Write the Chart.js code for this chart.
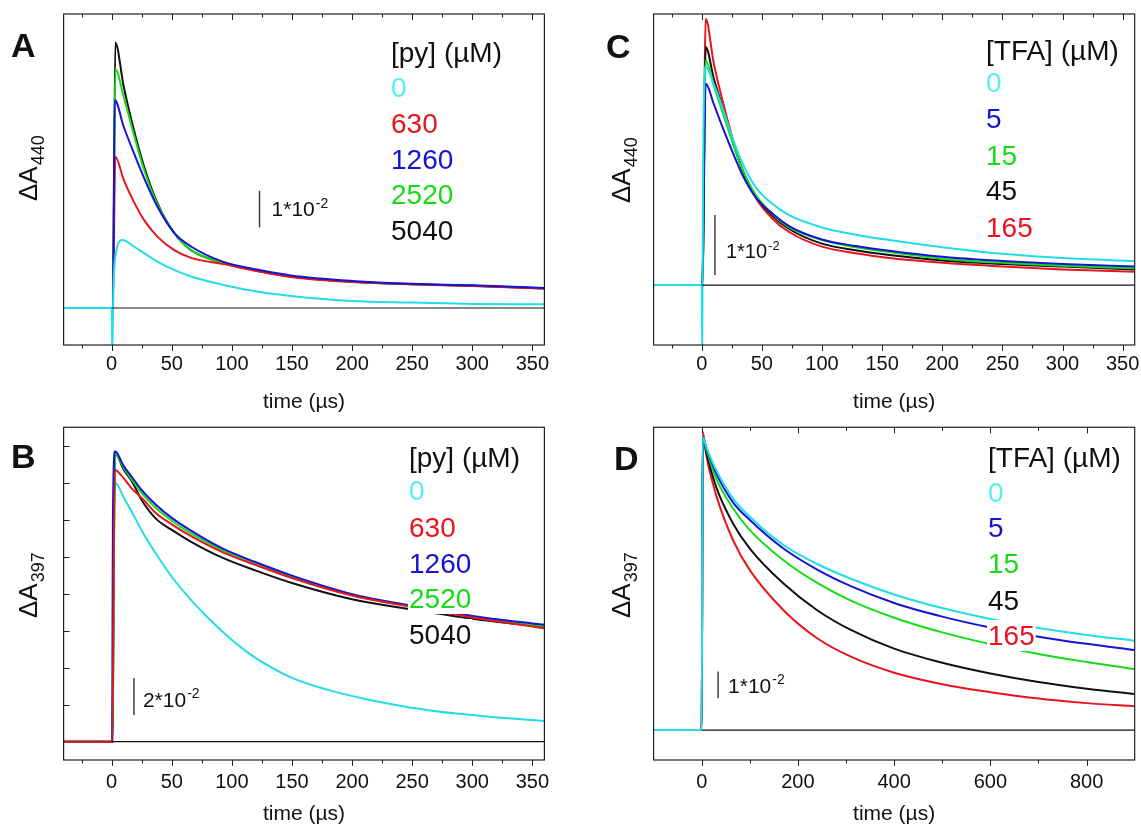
<!DOCTYPE html>
<html>
<head>
<meta charset="utf-8">
<script src="https://cdn.jsdelivr.net/npm/chart.js@4"></script>
<style>
html, body { margin: 0; padding: 0; background: #fff; }
#wrap { position: relative; width: 1141px; height: 827px; }
canvas { position: absolute; }
</style>
</head>
<body>
<div id="wrap">
  <canvas id="pA" width="570" height="420" style="left:0;top:0"></canvas>
  <canvas id="pC" width="571" height="420" style="left:570px;top:0"></canvas>
  <canvas id="pB" width="570" height="407" style="left:0;top:420px"></canvas>
  <canvas id="pD" width="571" height="407" style="left:570px;top:420px"></canvas>
</div>
<script>
// concentrations shown in the legends
var pyConc = ['0', '630', '1260', '2520', '5040'];
var tfaConc = ['0', '5', '15', '45', '165'];

// axis ticks (time, µs)
var ticksUs = [0, 50, 100, 150, 200, 250, 300, 350];
var minorUs = [-25, 25, 75, 125, 175, 225, 275, 325];
var ticksLong = [0, 200, 400, 600, 800];
var minorLong = [100, 300, 500, 700];
var ticksB_y = [0.02, 0.04, 0.06, 0.08, 0.10, 0.12, 0.14, 0.16];

// panel A : dA440 vs time, [py]
var aCyan  = [[-40,0],[0,0],[0.5,-0.012],[1.5,0.006],[3.5,0.015],[9,0.0186],[18.5,0.0168],[27,0.015],[38,0.0127],[52,0.0104],[66,0.0086],[93,0.0063],[121,0.0045],[149,0.0033],[200,0.0019],[250,0.0015],[300,0.0011],[360,0.001]];
var aRed   = [[-40,0],[1,0],[3,0.0413],[10,0.035],[18.5,0.029],[27,0.024],[38,0.0195],[52,0.0158],[66,0.0137],[93,0.012],[121,0.0101],[149,0.0085],[200,0.0071],[250,0.0065],[300,0.006],[360,0.0053]];
var aBlue  = [[-40,0],[1,0],[2.5,0.0568],[10,0.0495],[18.5,0.0423],[27,0.0355],[38,0.0277],[52,0.0205],[66,0.0168],[93,0.0126],[121,0.0105],[149,0.0089],[200,0.0074],[250,0.0066],[300,0.0062],[360,0.0055]];
var aGreen = [[-40,0],[1,0],[3,0.0652],[10,0.0577],[18.5,0.0473],[27,0.0377],[38,0.0283],[52,0.0205],[66,0.0158],[93,0.0122],[121,0.0102],[149,0.0086],[200,0.0072],[250,0.0065],[300,0.0061],[360,0.0053]];
var aBlack = [[-40,0],[1,0],[3,0.0725],[10,0.0605],[18.5,0.0486],[27,0.0386],[38,0.0287],[52,0.0205],[66,0.0158],[93,0.0123],[121,0.0102],[149,0.0086],[200,0.0072],[250,0.0065],[300,0.0061],[360,0.0053]];

// panel B : dA397 vs time, [py]
var bCyan  = [[-40,0],[0.5,0],[1,0.096],[3.3,0.1397],[10,0.132],[16.6,0.1245],[25.5,0.1135],[37,0.1015],[50.8,0.0885],[64.8,0.0775],[78.6,0.068],[92.5,0.0593],[106,0.0518],[120,0.0452],[149,0.0348],[180,0.028],[210,0.0232],[240,0.0194],[270,0.0164],[310,0.0137],[360,0.0112]];
var bRed   = [[-40,0],[0.5,0],[2.5,0.147],[8,0.144],[16.6,0.137],[25.5,0.1315],[37,0.1235],[50,0.1175],[65,0.1115],[92,0.1025],[120,0.0955],[150,0.0885],[200,0.079],[250,0.0728],[300,0.0672],[360,0.0613]];
var bBlue  = [[-40,0],[0.5,0],[1,0.12],[2.8,0.157],[10,0.149],[17,0.143],[25,0.136],[37,0.128],[50,0.121],[65,0.1145],[92,0.1045],[120,0.097],[150,0.0898],[200,0.0798],[250,0.0735],[300,0.068],[360,0.0632]];
var bGreen = [[-40,0],[0.5,0],[2.8,0.156],[10,0.148],[17,0.1416],[25,0.1344],[37,0.1262],[50,0.1195],[65,0.113],[92,0.1035],[120,0.096],[150,0.0888],[200,0.0792],[250,0.073],[300,0.0675],[360,0.0625]];
var bBlack = [[-40,0],[0.5,0],[2.8,0.156],[10,0.147],[17,0.1406],[25,0.1306],[37,0.1205],[50,0.1145],[65,0.1085],[92,0.0995],[120,0.0925],[150,0.0858],[200,0.077],[250,0.0715],[300,0.0665],[360,0.062]];

// panel C : dA440 vs time, [TFA]
var cCyan  = [[-40,0],[0,0],[0.4,-0.011],[1.2,0.02],[3.3,0.0364],[10,0.0335],[17,0.0297],[25.6,0.0245],[34,0.0203],[45,0.0163],[59,0.0135],[73,0.0116],[100,0.0096],[128,0.0084],[156,0.0075],[200,0.0063],[250,0.0052],[300,0.0045],[360,0.004]];
var cBlue  = [[-40,0],[0.5,0],[3.3,0.0336],[10,0.0302],[17,0.0265],[25.6,0.0222],[34,0.0183],[45,0.0146],[59,0.0119],[73,0.0098],[100,0.0076],[128,0.0065],[156,0.0057],[200,0.0047],[250,0.004],[300,0.0035],[360,0.0031]];
var cGreen = [[-40,0],[0.5,0],[3.3,0.0375],[10,0.0333],[17,0.029],[25.6,0.0238],[34,0.0192],[45,0.015],[59,0.0118],[73,0.0096],[100,0.0075],[128,0.0063],[156,0.0055],[200,0.0044],[250,0.0037],[300,0.0032],[360,0.0028]];
var cBlack = [[-40,0],[0.5,0],[3.3,0.0397],[10,0.0345],[17,0.0298],[25.6,0.024],[34,0.0192],[45,0.0148],[59,0.0115],[73,0.0093],[100,0.0069],[128,0.0058],[156,0.005],[200,0.0041],[250,0.0035],[300,0.0031],[360,0.0026]];
var cRed   = [[-40,0],[0.5,0],[3.3,0.0444],[10,0.037],[17,0.031],[25.6,0.0245],[34,0.019],[45,0.0145],[59,0.011],[73,0.0088],[100,0.0064],[128,0.0053],[156,0.0045],[200,0.0037],[250,0.0031],[300,0.0026],[360,0.0022]];

// panel D : dA397 vs time, [TFA]
var dCyan  = [[-100,0],[0,0],[2,0.1097],[10,0.1058],[30,0.0974],[65,0.0868],[100,0.0799],[170,0.0693],[240,0.0622],[310,0.0567],[400,0.0508],[500,0.0457],[600,0.0416],[700,0.0382],[800,0.0356],[900,0.0335]];
var dBlue  = [[-100,0],[0,0],[2,0.1097],[10,0.1055],[30,0.0963],[65,0.0853],[100,0.0787],[170,0.068],[240,0.0601],[310,0.0539],[400,0.0476],[500,0.0425],[600,0.0384],[700,0.035],[800,0.0323],[900,0.03]];
var dGreen = [[-100,0],[0,0],[2,0.1097],[10,0.1049],[30,0.0943],[65,0.0831],[100,0.0749],[170,0.0636],[240,0.0551],[310,0.0485],[400,0.0421],[500,0.0366],[600,0.0322],[700,0.0285],[800,0.0255],[900,0.0228]];
var dBlack = [[-100,0],[0,0],[2,0.1097],[10,0.1036],[30,0.0911],[65,0.0774],[100,0.068],[170,0.0549],[240,0.0449],[310,0.0375],[400,0.0305],[500,0.0252],[600,0.0212],[700,0.018],[800,0.0155],[900,0.0135]];
var dRed   = [[-100,0],[0,0],[2,0.1117],[10,0.1024],[30,0.088],[65,0.0712],[100,0.0599],[170,0.0449],[240,0.0344],[310,0.0275],[400,0.0215],[500,0.0172],[600,0.0142],[700,0.0118],[800,0.0101],[900,0.0089]];

// zero lines
var zeroUs = [[0,0],[360,0]];
var zeroLong = [[0,0],[900,0]];

var FONT = '"Liberation Sans", Arial, sans-serif';
var CYAN = '#22dde6', RED = '#e8141e', BLUE = '#1414d2', GREEN = '#16dc16', BLACK = '#111111';
var CYAN_TXT = '#5aeef2';

function toXY(pairs) {
  return pairs.map(function (p) { return { x: p[0], y: p[1] }; });
}

function makeDeco(d) {
  return {
    id: 'deco',
    afterDatasetsDraw: function (chart) {
      var ctx = chart.ctx, a = chart.chartArea;
      var sx = chart.scales.x, sy = chart.scales.y;
      ctx.save();

      // legend text (white boxes hide the traces behind, as in the original)
      ctx.textBaseline = 'alphabetic';
      ctx.font = '28px ' + FONT;
      var texts = [d.header].concat(d.conc);
      var cols = ['#111'].concat(d.concColors);
      texts.forEach(function (t, i) {
        var w = ctx.measureText(t).width;
        var y = d.labelY[i];
        ctx.fillStyle = '#fff';
        ctx.fillRect(d.labelX - 1, y - 25, w + 2, 31);
        ctx.fillStyle = cols[i];
        ctx.fillText(t, d.labelX, y);
      });

      // frame
      ctx.strokeStyle = '#222';
      ctx.lineWidth = 1.2;
      ctx.strokeRect(a.left, a.top, a.right - a.left, a.bottom - a.top);

      // ticks: bottom outward, top inward
      ctx.lineWidth = 1;
      function tick(v, len) {
        var x = Math.round(sx.getPixelForValue(v)) + 0.5;
        ctx.beginPath();
        ctx.moveTo(x, a.bottom); ctx.lineTo(x, a.bottom + len);
        if (d.topTicks) { ctx.moveTo(x, a.top); ctx.lineTo(x, a.top + len); }
        ctx.stroke();
      }
      d.major.forEach(function (v) { tick(v, 6); });
      d.minor.forEach(function (v) { tick(v, 3.5); });
      if (d.yTicks) {
        d.yTicks.forEach(function (v) {
          var y = Math.round(sy.getPixelForValue(v)) + 0.5;
          ctx.beginPath(); ctx.moveTo(a.left, y); ctx.lineTo(a.left + 6, y); ctx.stroke();
        });
      }

      // scale bar
      var b = d.bar;
      var bx = sx.getPixelForValue(b.t);
      var by0 = sy.getPixelForValue(b.y0), by1 = sy.getPixelForValue(b.y0 + b.len);
      ctx.strokeStyle = '#333';
      ctx.lineWidth = 1.4;
      ctx.beginPath(); ctx.moveTo(bx, by0); ctx.lineTo(bx, by1); ctx.stroke();
      ctx.fillStyle = '#111';
      ctx.font = b.size + 'px ' + FONT;
      var tx = bx + b.dx, ty = by0 + b.dy;
      ctx.fillText(b.text, tx, ty);
      var tw = ctx.measureText(b.text).width;
      ctx.font = Math.round(b.size * 0.65) + 'px ' + FONT;
      ctx.fillText('-2', tx + tw + 1, ty - b.size * 0.42);

      // panel letter
      ctx.font = 'bold 34px ' + FONT;
      ctx.fillText(d.letter, d.letterX, d.letterY);

      // y label, rotated, with subscript
      ctx.translate(d.ylabX, d.ylabY);
      ctx.rotate(-Math.PI / 2);
      ctx.font = '26px ' + FONT;
      ctx.fillText('\u0394A', 0, 0);
      var lw = ctx.measureText('\u0394A').width;
      ctx.font = '18px ' + FONT;
      ctx.fillText(d.sub, lw + 1, 7);
      ctx.restore();
    }
  };
}

function buildPanel(id, p) {
  var ds = p.series.map(function (s) {
    return {
      label: s.name, data: toXY(s.data), borderColor: s.color, borderWidth: 2,
      pointRadius: 0, cubicInterpolationMode: 'monotone', order: s.order, clip: 0
    };
  });
  ds.push({ label: 'zero', data: toXY(p.zero), borderColor: '#111', borderWidth: 1.2,
            pointRadius: 0, order: 0, clip: 0 });

  new Chart(document.getElementById(id), {
    type: 'line',
    data: { datasets: ds },
    options: {
      responsive: false,
      animation: false,
      devicePixelRatio: 1,
      layout: { padding: p.pad },
      plugins: { legend: { display: false }, tooltip: { enabled: false } },
      scales: {
        x: {
          type: 'linear', min: p.xmin, max: p.xmax,
          grid: { display: false, drawTicks: false },
          border: { display: false },
          ticks: { font: { family: FONT, size: 20 }, color: '#111', padding: p.tickPad,
                   autoSkip: false, maxRotation: 0 },
          afterBuildTicks: function (s) { s.ticks = p.major.map(function (v) { return { value: v }; }); },
          afterFit: function (s) {
            s.height = p.xHeight;
            s.paddingLeft = 0;
            s.paddingRight = 0;
          },
          title: { display: true, text: 'time (\u00b5s)', color: '#111',
                   font: { family: FONT, size: 21 }, padding: { top: 0, bottom: p.titlePad } }
        },
        y: { display: false, min: p.ymin, max: p.ymax }
      }
    },
    plugins: [makeDeco(p.deco)]
  });
}

buildPanel('pA', {
  xmin: -40, xmax: 360, ymin: -0.0101, ymax: 0.0803,
  pad: { left: 63.6, right: 25.6, top: 14, bottom: 0 }, xHeight: 75, tickPad: 7, titlePad: 5,
  major: ticksUs, zero: zeroUs,
  series: [
    { name: '5040', data: aBlack, color: BLACK, order: 6 },
    { name: '2520', data: aGreen, color: GREEN, order: 5 },
    { name: '630', data: aRed, color: RED, order: 4 },
    { name: '1260', data: aBlue, color: BLUE, order: 3 },
    { name: '0', data: aCyan, color: CYAN, order: 2 }
  ],
  deco: {
    header: '[py] (\u00b5M)', conc: pyConc, concColors: [CYAN_TXT, RED, BLUE, GREEN, BLACK],
    labelX: 391, labelY: [62, 97, 133, 169, 204, 240],
    major: ticksUs, minor: minorUs, topTicks: true,
    bar: { t: 123, y0: 0.022, len: 0.01, text: '1*10', size: 21, dx: 12, dy: -11 },
    letter: 'A', letterX: 11, letterY: 57,
    ylabX: 37, ylabY: 201, sub: '440'
  }
});

buildPanel('pC', {
  xmin: -40, xmax: 360, ymin: -0.01, ymax: 0.0452,
  pad: { left: 83.6, right: 6.3, top: 14, bottom: 0 }, xHeight: 75, tickPad: 7, titlePad: 5,
  major: ticksUs, zero: zeroUs,
  series: [
    { name: '165', data: cRed, color: RED, order: 6 },
    { name: '45', data: cBlack, color: BLACK, order: 5 },
    { name: '15', data: cGreen, color: GREEN, order: 4 },
    { name: '5', data: cBlue, color: BLUE, order: 3 },
    { name: '0', data: cCyan, color: CYAN, order: 2 }
  ],
  deco: {
    header: '[TFA] (\u00b5M)', conc: tfaConc, concColors: [CYAN_TXT, BLUE, GREEN, BLACK, RED],
    labelX: 416, labelY: [60, 92, 128, 165, 200, 237],
    major: ticksUs, minor: minorUs, topTicks: true,
    bar: { t: 11, y0: 0.00167, len: 0.01, text: '1*10', size: 20, dx: 11, dy: -17 },
    letter: 'C', letterX: 36, letterY: 58,
    ylabX: 60, ylabY: 203, sub: '440'
  }
});

buildPanel('pB', {
  xmin: -40, xmax: 360, ymin: -0.0099, ymax: 0.170,
  pad: { left: 63.6, right: 25.6, top: 7.3, bottom: 0 }, xHeight: 67, tickPad: 10, titlePad: 0,
  major: ticksUs, zero: zeroUs,
  series: [
    { name: '0', data: bCyan, color: CYAN, order: 6 },
    { name: '5040', data: bBlack, color: BLACK, order: 5 },
    { name: '2520', data: bGreen, color: GREEN, order: 4 },
    { name: '1260', data: bBlue, color: BLUE, order: 3 },
    { name: '630', data: bRed, color: RED, order: 2 }
  ],
  deco: {
    header: '[py] (\u00b5M)', conc: pyConc, concColors: [CYAN_TXT, RED, BLUE, GREEN, BLACK],
    labelX: 409, labelY: [47, 80, 117, 153, 188, 224],
    major: ticksUs, minor: minorUs, topTicks: false, yTicks: ticksB_y,
    bar: { t: 18.5, y0: 0.0144, len: 0.02, text: '2*10', size: 21, dx: 9, dy: -8 },
    letter: 'B', letterX: 11, letterY: 48,
    ylabX: 37, ylabY: 198, sub: '397'
  }
});

buildPanel('pD', {
  xmin: -100, xmax: 900, ymin: -0.0112, ymax: 0.1134,
  pad: { left: 83.6, right: 6.3, top: 7.3, bottom: 0 }, xHeight: 67, tickPad: 10, titlePad: 0,
  major: ticksLong, zero: zeroLong,
  series: [
    { name: '165', data: dRed, color: RED, order: 6 },
    { name: '45', data: dBlack, color: BLACK, order: 5 },
    { name: '15', data: dGreen, color: GREEN, order: 4 },
    { name: '5', data: dBlue, color: BLUE, order: 3 },
    { name: '0', data: dCyan, color: CYAN, order: 2 }
  ],
  deco: {
    header: '[TFA] (\u00b5M)', conc: tfaConc, concColors: [CYAN_TXT, BLUE, GREEN, BLACK, RED],
    labelX: 418, labelY: [47, 82, 117, 153, 190, 225],
    major: ticksLong, minor: minorLong, topTicks: true,
    bar: { t: 34, y0: 0.0119, len: 0.01, text: '1*10', size: 21, dx: 10, dy: -5 },
    letter: 'D', letterX: 44, letterY: 50,
    ylabX: 60, ylabY: 198, sub: '397'
  }
});
</script>
</body>
</html>
